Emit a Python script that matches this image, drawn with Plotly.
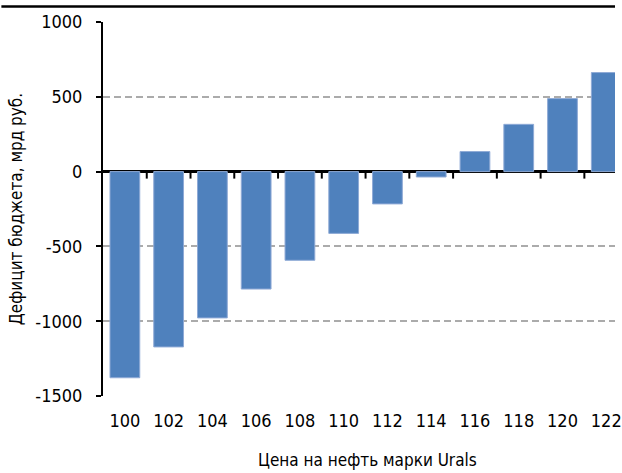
import plotly.graph_objects as go

# Urals oil price (USD/bbl) and the resulting federal budget balance, bn RUB
prices = ["100", "102", "104", "106", "108", "110", "112", "114", "116", "118", "120", "122"]
deficit = [-1378, -1172, -978, -785, -593, -413, -216, -36, 134, 316, 488, 662]

y_ticks = [-1500, -1000, -500, 0, 500, 1000]
y_tick_text = ["-1500", "-1000", "-500", "0", "500", "1000"]
y_min, y_max = -1500, 1000
x_view = [-0.5, 11.2]

FONT = "DejaVu Sans Condensed, Liberation Sans Narrow, Arial Narrow, sans-serif"
W, H = 622, 473
M_L, M_R, M_T, M_B = 103, 0, 22, 77
plot_w = W - M_L - M_R
plot_h = H - M_T - M_B

# category boundaries, where the small ticks hang from the zero line
boundaries = [i - 0.5 for i in range(len(prices) + 1)]
tick_px = 7
zero_frac = (0 - y_min) / (y_max - y_min)


def x_to_paper(v):
    return (v - x_view[0]) / (x_view[1] - x_view[0])


fig = go.Figure()
fig.add_trace(go.Bar(
    x=prices, y=deficit,
    marker=dict(color="#4F81BD", line=dict(color="#8FAAD6", width=1)),
    width=0.68,
    hoverinfo="x+y",
))

fig.update_layout(
    width=W, height=H,
    margin=dict(l=M_L, r=M_R, t=M_T, b=M_B),
    paper_bgcolor="white", plot_bgcolor="white",
    showlegend=False,
    font=dict(family=FONT, color="black", size=18),
    xaxis=dict(
        type="category", categoryorder="array", categoryarray=prices,
        range=x_view,
        showline=False, ticks="", showgrid=False, zeroline=False,
        tickfont=dict(family=FONT, size=18, color="black"),
        ticklabelstandoff=12,
    ),
    yaxis=dict(
        range=[y_min, y_max], tickvals=y_ticks, ticktext=y_tick_text,
        showline=True, linecolor="black", linewidth=2,
        ticks="outside", ticklen=5, tickwidth=1.5, tickcolor="black",
        showgrid=True, gridcolor="#ABABAB", gridwidth=1.5, griddash="7px,4px",
        zeroline=True, zerolinecolor="black", zerolinewidth=2.5,
        tickfont=dict(family=FONT, size=18, color="black"),
        ticklabelstandoff=10,
        title=dict(text="Дефицит бюджета, мрд руб.",
                   font=dict(family=FONT, size=17, color="black"), standoff=8),
    ),
)

# small ticks below the zero line at every category boundary in view
for b in boundaries:
    px = x_to_paper(b)
    if 0 < px <= 1:
        fig.add_shape(type="line", xref="paper", yref="paper",
                      x0=px, x1=px, y0=zero_frac, y1=zero_frac - tick_px / plot_h,
                      line=dict(color="black", width=2), layer="above")

fig.add_annotation(
    text="Цена на нефть марки Urals", xref="paper", yref="paper",
    x=(371 - M_L) / plot_w, y=-(460 - (H - M_B)) / plot_h,
    xanchor="center", yanchor="middle", showarrow=False,
    font=dict(family=FONT, size=17, color="black"),
)

# rule under the heading strip
rule_y = 1 + (M_T - 6.5) / plot_h
fig.add_shape(type="line", xref="paper", yref="paper",
              x0=-M_L / plot_w, x1=1, y0=rule_y, y1=rule_y,
              line=dict(color="black", width=2.5))

fig.write_html("out.html")
